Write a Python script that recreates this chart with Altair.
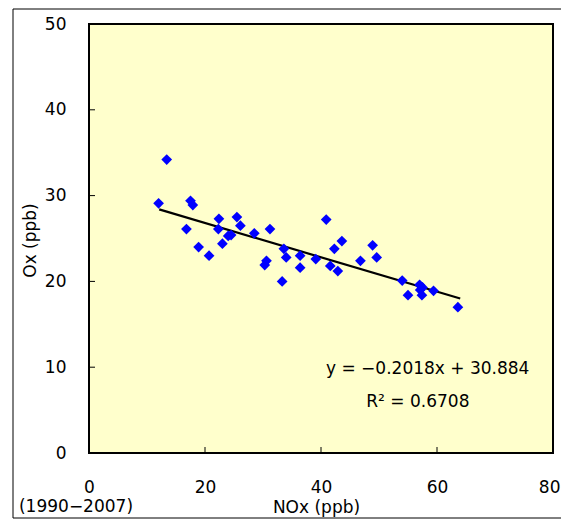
import altair as alt
import pandas as pd

# Scatter data: NOx (ppb) vs Ox (ppb), 1990-2007
nox = [12.0, 13.4, 17.5, 17.9, 16.8, 18.9, 20.7, 22.4, 22.3, 23.0,
       24.0, 24.5, 25.5, 26.1, 28.5, 31.2, 30.3, 30.6, 33.3, 33.6,
       34.0, 36.4, 36.4, 39.1, 40.9, 42.3, 43.6, 41.6, 42.9, 46.8,
       48.9, 49.6, 54.0, 55.0, 57.0, 57.5, 57.1, 57.4, 59.4, 63.6]
ox = [29.1, 34.2, 29.4, 28.9, 26.1, 24.0, 23.0, 27.3, 26.1, 24.4,
      25.3, 25.4, 27.5, 26.5, 25.6, 26.1, 21.9, 22.4, 20.0, 23.8,
      22.8, 23.0, 21.6, 22.6, 27.2, 23.8, 24.7, 21.8, 21.2, 22.4,
      24.2, 22.8, 20.1, 18.4, 19.6, 19.3, 19.0, 18.4, 18.9, 17.0]

# Trend line end points
trend_x = [12.1, 64.0]
trend_y = [28.4, 18.0]

# Axis ticks
x_ticks = [0, 20, 40, 60, 80]
y_ticks = [0, 10, 20, 30, 40, 50]
x_inner_ticks = [20, 40, 60]
y_inner_ticks = [10, 20, 30, 40]

# Annotation
ann_text = ["y = −0.2018x + 30.884", "R² = 0.6708"]
ann_x = [58.4, 56.7]
ann_y = [9.8, 5.9]

FONT = "DejaVu Sans"
FS = 17
W, H = 464, 429

pts = pd.DataFrame({"NOx": nox, "Ox": ox})
trend = pd.DataFrame({"NOx": trend_x, "Ox": trend_y})
ann = pd.DataFrame({"t": ann_text, "NOx": ann_x, "Ox": ann_y})
xt = pd.DataFrame({"v": x_inner_ticks})
yt = pd.DataFrame({"v": y_inner_ticks})

xscale = alt.Scale(domain=[0, 80], nice=False)
yscale = alt.Scale(domain=[0, 50], nice=False)

xaxis = alt.Axis(values=x_ticks, ticks=False, tickSize=0, domain=False, grid=False,
                 labelPadding=34, labelBaseline="middle", labelFont=FONT, labelFontSize=FS,
                 labelColor="black",
                 labelAlign={"condition": {"test": "datum.value == 80", "value": "right"},
                             "value": "center"},
                 labelOffset={"condition": {"test": "datum.value == 80", "value": 7},
                              "value": 0},
                 title="NOx (ppb)", titleFont=FONT, titleFontSize=FS,
                 titleFontWeight="normal", titleColor="black", titleX=227, titleY=54,
                 titleBaseline="middle", labelFlush=False)
yaxis = alt.Axis(values=y_ticks, ticks=False, tickSize=0, domain=False, grid=False,
                 labelPadding=23, labelFont=FONT, labelFontSize=FS, labelColor="black",
                 title="Ox (ppb)", titleFont=FONT, titleFontSize=FS, titleFontWeight="normal",
                 titleColor="black", titleX=-59, titleY=216, titleBaseline="middle",
                 titleAngle=270, labelFlush=False)

points = alt.Chart(pts).mark_point(shape="diamond", filled=True, color="#0000FF",
                                   size=115, opacity=1).encode(
    x=alt.X("NOx:Q", scale=xscale, axis=xaxis),
    y=alt.Y("Ox:Q", scale=yscale, axis=yaxis),
)

line = alt.Chart(trend).mark_line(color="black", strokeWidth=2.2).encode(
    x=alt.X("NOx:Q", scale=xscale),
    y=alt.Y("Ox:Q", scale=yscale),
)

texts = alt.Chart(ann).mark_text(font=FONT, fontSize=FS, color="black",
                                 align="center", baseline="middle").encode(
    x=alt.X("NOx:Q", scale=xscale),
    y=alt.Y("Ox:Q", scale=yscale),
    text="t:N",
)

xtick_marks = alt.Chart(xt).mark_rule(color="black", strokeWidth=1).encode(
    x=alt.X("v:Q", scale=xscale),
    y=alt.value(H),
    y2=alt.value(H - 6),
)
ytick_marks = alt.Chart(yt).mark_rule(color="black", strokeWidth=1).encode(
    y=alt.Y("v:Q", scale=yscale),
    x=alt.value(0),
    x2=alt.value(6),
)

period = alt.Chart(pd.DataFrame({"t": ["(1990−2007)"]})).mark_text(
    font=FONT, fontSize=FS, color="black", align="center", baseline="middle"
).encode(x=alt.value(-13), y=alt.value(483), text="t:N")

frame = alt.Chart(pd.DataFrame({"a": [0]})).mark_rect(
    filled=False, stroke="black", strokeWidth=1
).encode(x=alt.value(-76), x2=alt.value(520), y=alt.value(-15), y2=alt.value(494))

chart = alt.layer(frame, xtick_marks, ytick_marks, line, points, texts, period).properties(
    width=W, height=H,
    autosize=alt.AutoSizeParams(type="none"),
    padding={"left": 81, "top": 16, "right": 8, "bottom": 66},
    background="white",
).configure_view(fill="#FFFFCC", stroke="black", strokeWidth=2)

chart.save("out.html", embed_options={"renderer": "svg", "actions": False})
